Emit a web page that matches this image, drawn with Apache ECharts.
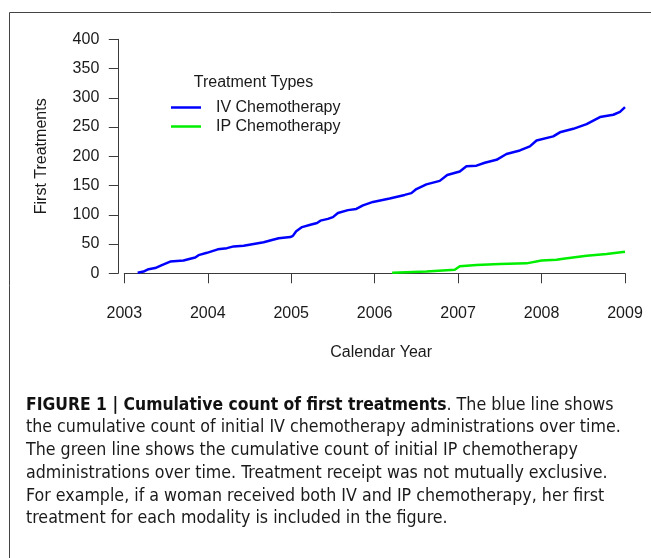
<!DOCTYPE html>
<html lang="en">
<head>
<meta charset="utf-8">
<title>Cumulative count of first treatments</title>
<script src="https://cdn.jsdelivr.net/npm/echarts@6/dist/echarts.min.js"></script>
<style>
  html, body { margin: 0; padding: 0; background: #fff; }
  #chart { width: 651px; height: 558px; }
</style>
</head>
<body>
<div id="chart"></div>
<script>
// values
var ivYears  = [2003.16, 2003.23, 2003.29, 2003.37, 2003.45, 2003.55, 2003.71, 2003.79, 2003.85, 2003.89,
                2003.99, 2004.12, 2004.23, 2004.31, 2004.43, 2004.55, 2004.67, 2004.77, 2004.85, 2004.99,
                2005.02, 2005.06, 2005.13, 2005.23, 2005.31, 2005.35, 2005.44, 2005.50, 2005.56, 2005.68,
                2005.78, 2005.86, 2005.98, 2006.18, 2006.36, 2006.44, 2006.50, 2006.62, 2006.78, 2006.87,
                2007.02, 2007.10, 2007.22, 2007.32, 2007.46, 2007.58, 2007.74, 2007.86, 2007.94, 2008.14,
                2008.22, 2008.38, 2008.54, 2008.70, 2008.86, 2008.94, 2009.00];
var ivCounts = [1, 3, 7, 9, 14, 20, 22, 25, 27, 31,
                35, 41, 43, 46, 47, 50, 53, 57, 60, 62,
                64, 72, 79, 83, 86, 90, 93, 96, 103, 108,
                110, 116, 122, 128, 134, 137, 144, 152, 158, 168,
                174, 183, 184, 189, 194, 204, 210, 217, 227, 234,
                241, 247, 255, 267, 271, 276, 284];

var ipYears  = [2006.21, 2006.62, 2006.96, 2007.02, 2007.22, 2007.50, 2007.82, 2008.00, 2008.18, 2008.26, 2008.54, 2008.78, 2009.00];
var ipCounts = [1, 3, 6, 12, 14, 16, 17, 22, 23, 25, 30, 33, 37];

var seriesNames = ['IV Chemotherapy', 'IP Chemotherapy'];
var legendTitle = 'Treatment Types';
var xTitle = 'Calendar Year';
var yTitle = 'First Treatments';

var captionBold = 'FIGURE 1 | Cumulative count of first treatments';
var captionLines = [
  '. The blue line shows',
  'the cumulative count of initial IV chemotherapy administrations over time.',
  'The green line shows the cumulative count of initial IP chemotherapy',
  'administrations over time. Treatment receipt was not mutually exclusive.',
  'For example, if a woman received both IV and IP chemotherapy, her first',
  'treatment for each modality is included in the figure.'
];

function pairs(xs, ys) {
  return xs.map(function (x, i) { return [x, ys[i]]; });
}

// pick a condensed face for the caption and size it to the printed line width
var probe = document.createElement('canvas').getContext('2d');
function widthOf(txt, font) { probe.font = font; return probe.measureText(txt).width; }
var capFamily = '"Liberation Sans"';
['"Liberation Sans Narrow"', '"DejaVu Sans Condensed"', '"Roboto Condensed"'].some(function (f) {
  var w1 = widthOf('abcdefghijklmnopqrstuvwxyz', '20px ' + f + ', monospace');
  var w2 = widthOf('abcdefghijklmnopqrstuvwxyz', '20px monospace');
  if (Math.abs(w1 - w2) > 0.5) { capFamily = f; return true; }
  return false;
});
var capSize = 20 * 595 / widthOf(captionLines[1], '20px ' + capFamily);
var boldSize = 20 * 421 / widthOf(captionBold, 'bold 20px ' + capFamily);

var sansFont = '"Liberation Sans", Arial, Helvetica, sans-serif';
var ink = '#1a1a1a';
var axisInk = '#3a3a3a';

var captionTexts = captionLines.map(function (line, i) {
  var txt = i === 0 ? '{b|' + captionBold + '}' + line : line;
  return {
    type: 'text',
    x: 26,
    y: 405 + i * 22.75,
    style: {
      text: txt,
      fontSize: capSize,
      fontFamily: capFamily,
      fill: ink,
      verticalAlign: 'middle',
      rich: { b: { fontWeight: 'bold', fontSize: Math.min(boldSize, capSize * 1.05), fontFamily: capFamily, fill: '#111' } }
    }
  };
});

var chart = echarts.init(document.getElementById('chart'));
chart.setOption({
  animation: false,
  grid: { left: 124.3, right: 26, top: 39.3, bottom: 284.7 },
  legend: {
    orient: 'vertical',
    left: 171, top: 98,
    padding: 0,
    itemGap: 0,
    itemWidth: 30, itemHeight: 2.5,
    icon: 'rect',
    data: seriesNames,
    textStyle: { fontSize: 16, fontFamily: sansFont, color: ink, lineHeight: 19, padding: [0, 0, 0, 10] }
  },
  xAxis: {
    type: 'value',
    min: 2003, max: 2009, interval: 1,
    offset: 9.4,
    name: xTitle,
    nameLocation: 'middle',
    nameGap: 62,
    nameTextStyle: { fontSize: 16, fontFamily: sansFont, color: ink, padding: [0, 0, 0, 13] },
    axisLine: { show: true, lineStyle: { color: axisInk, width: 1 } },
    axisTick: { show: true, length: 10, lineStyle: { color: axisInk, width: 1 } },
    axisLabel: { fontSize: 16, fontFamily: sansFont, color: ink, margin: 23, formatter: function (v) { return String(v); } },
    splitLine: { show: false }
  },
  yAxis: {
    type: 'value',
    min: 0, max: 400, interval: 50,
    offset: 6,
    name: yTitle,
    nameLocation: 'middle',
    nameGap: 69,
    nameTextStyle: { fontSize: 16, fontFamily: sansFont, color: ink },
    axisLine: { show: true, lineStyle: { color: axisInk, width: 1 } },
    axisTick: { show: true, length: 9.5, lineStyle: { color: axisInk, width: 1 } },
    axisLabel: { fontSize: 16, fontFamily: sansFont, color: ink, margin: 19 },
    splitLine: { show: false }
  },
  series: [
    {
      name: seriesNames[0], type: 'line', symbol: 'none',
      color: '#0000ff',
      lineStyle: { width: 2.5, color: '#0000ff' },
      data: pairs(ivYears, ivCounts)
    },
    {
      name: seriesNames[1], type: 'line', symbol: 'none',
      color: '#00ee00',
      lineStyle: { width: 2.5, color: '#00ee00' },
      data: pairs(ipYears, ipCounts)
    }
  ],
  graphic: [
    {
      type: 'rect',
      shape: { x: 9.5, y: 12.5, width: 700, height: 600 },
      style: { fill: 'none', stroke: '#444', lineWidth: 1 },
      silent: true
    },
    {
      type: 'text',
      x: 253.5, y: 82.7,
      style: { text: legendTitle, fontSize: 16, fontFamily: sansFont, fill: ink, align: 'center', verticalAlign: 'middle' }
    }
  ].concat(captionTexts)
});
</script>
</body>
</html>
